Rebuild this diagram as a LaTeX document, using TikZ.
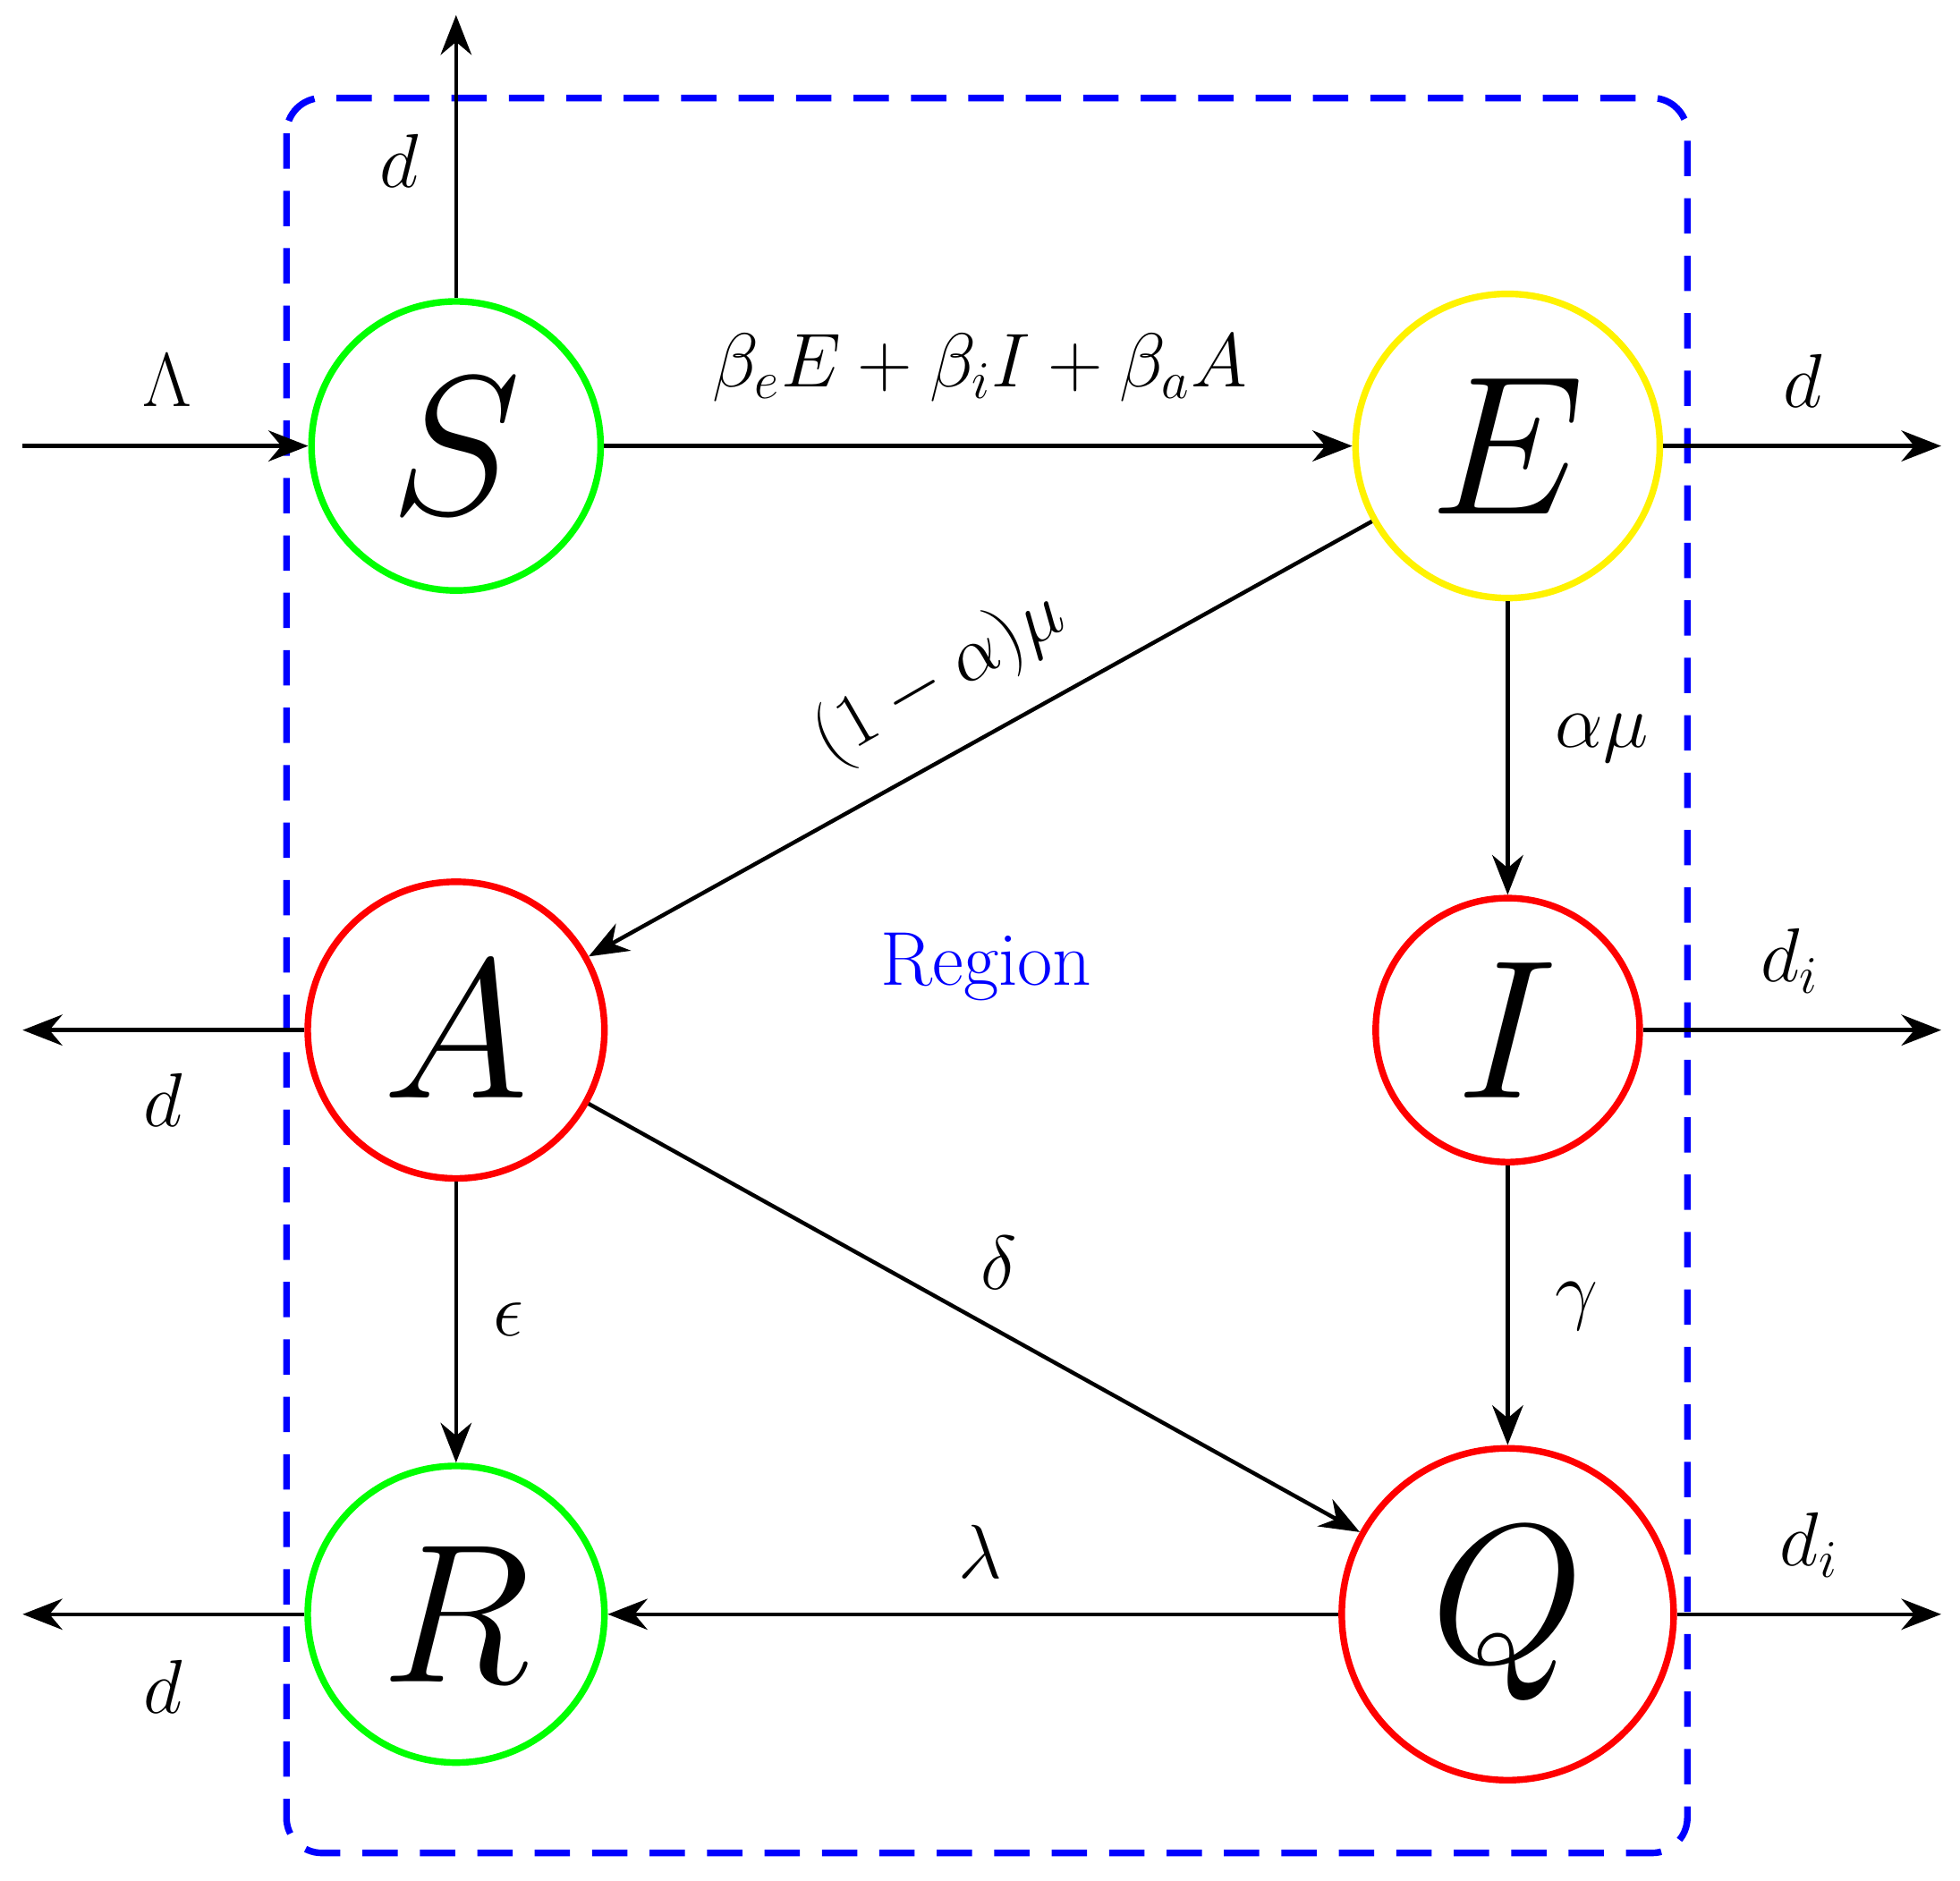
\documentclass[tikz,border=0pt]{standalone}
\usepackage{graphicx}
\usetikzlibrary{arrows.meta}
\newcommand{\bigL}[1]{\scalebox{1.8}{$#1$}}
\begin{document}
\begin{tikzpicture}[x=0.01cm,y=-0.01cm,
  st/.style={circle,draw,line width=1.5pt,inner sep=0pt,font=\Huge},
  ar/.style={-{Stealth[length=9pt,width=7pt]},line width=0.9pt},
  lb/.style={font=\LARGE}]
\useasboundingbox (0,0) rectangle (1560,1497);
\draw[blue,line width=1.5pt,dash pattern=on 8pt off 5pt,rounded corners=8pt] (228,78) rectangle (1343,1475);
\node[st,draw=green,minimum size=2.3cm] (S) at (363,355) {\bigL{S}};
\node[st,draw=yellow,minimum size=2.42cm] (E) at (1200,355) {\bigL{E}};
\node[st,draw=red,minimum size=2.36cm] (A) at (363,820) {\bigL{A}};
\node[st,draw=red,minimum size=2.1cm] (I) at (1200,820) {\bigL{I}};
\node[st,draw=green,minimum size=2.36cm] (R) at (363,1285) {\bigL{R}};
\node[st,draw=red,minimum size=2.64cm] (Q) at (1200,1285) {\bigL{Q}};
\coordinate (lin) at (18,355);
\coordinate (sup) at (363,12);
\coordinate (eout) at (1545,355);
\coordinate (aout) at (18,820);
\coordinate (iout) at (1545,820);
\coordinate (rout) at (18,1285);
\coordinate (qout) at (1545,1285);
\draw[ar] (lin) -- (S);
\draw[ar] (S) -- (sup);
\draw[ar] (E) -- (eout);
\draw[ar] (A) -- (aout);
\draw[ar] (I) -- (iout);
\draw[ar] (R) -- (rout);
\draw[ar] (Q) -- (qout);
\draw[ar] (S) -- (E);
\draw[ar] (E) -- (A);
\draw[ar] (E) -- (I);
\draw[ar] (A) -- (R);
\draw[ar] (A) -- (Q);
\draw[ar] (I) -- (Q);
\draw[ar] (Q) -- (R);
\node[lb] (l1) at (133,303) {$\Lambda$};
\node[lb] (l2) at (318,128) {$d$};
\node[lb] (l3) at (780,293) {$\beta_eE+\beta_iI+\beta_aA$};
\node[lb] (l4) at (1435,303) {$d$};
\node[lb,rotate=30] (l5) at (748,540) {$(1-\alpha)\mu$};
\node[lb] (l6) at (1275,588) {$\alpha\mu$};
\node[font=\LARGE,text=blue] (rg) at (785,770) {Region};
\node[lb] (l7) at (1425,765) {$d_i$};
\node[lb] (l8) at (130,876) {$d$};
\node[lb] (l9) at (405,1050) {$\epsilon$};
\node[lb] (l10) at (795,1005) {$\delta$};
\node[lb] (l11) at (1255,1040) {$\gamma$};
\node[lb] (l12) at (780,1235) {$\lambda$};
\node[lb] (l13) at (1440,1230) {$d_i$};
\node[lb] (l14) at (130,1343) {$d$};
\end{tikzpicture}
\end{document}
